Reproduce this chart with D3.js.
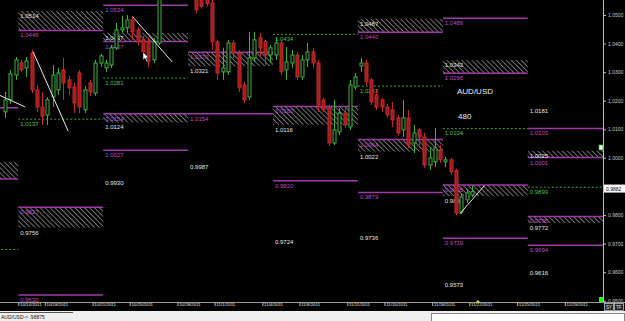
<!DOCTYPE html>
<html>
<head>
<meta charset="utf-8">
<script src="https://cdn.jsdelivr.net/npm/d3@7"></script>
<style>
  body { margin: 0; background: #000; overflow: hidden; }
  text { font-family: "Liberation Sans", Arial, sans-serif; }
</style>
</head>
<body>
<script>
// 8h candles, AUD/USD, [open, high, low, close]
var candles = [
  [1.0161,1.0231,1.0140,1.0203],[1.0203,1.0308,1.0189,1.0294],[1.0290,1.0353,1.0273,1.0343],[1.0332,1.0343,1.0301,1.0308],
  [1.0315,1.0353,1.0283,1.0339],[1.0367,1.0378,1.0227,1.0238],[1.0238,1.0255,1.0161,1.0178],[1.0178,1.0231,1.0115,1.0146],
  [1.0150,1.0213,1.0115,1.0203],[1.0213,1.0325,1.0178,1.0290],[1.0238,1.0315,1.0220,1.0297],[1.0308,1.0350,1.0203,1.0262],
  [1.0273,1.0287,1.0220,1.0245],[1.0248,1.0262,1.0157,1.0192],[1.0297,1.0308,1.0157,1.0178],[1.0168,1.0252,1.0157,1.0238],
  [1.0262,1.0273,1.0217,1.0231],[1.0227,1.0343,1.0217,1.0332],[1.0332,1.0364,1.0318,1.0357],[1.0315,1.0343,1.0301,1.0332],
  [1.0325,1.0395,1.0315,1.0385],[1.0385,1.0472,1.0378,1.0448],[1.0448,1.0497,1.0437,1.0455],[1.0455,1.0500,1.0437,1.0483],
  [1.0483,1.0497,1.0413,1.0441],[1.0448,1.0458,1.0395,1.0406],[1.0413,1.0427,1.0360,1.0371],[1.0406,1.0420,1.0318,1.0336],
  [1.0343,1.0420,1.0332,1.0406],[1.0402,1.0640,1.0395,1.0610],[1.0610,1.0660,1.0580,1.0645],[1.0645,1.0700,1.0620,1.0685],
  [1.0685,1.0740,1.0660,1.0720],[1.0720,1.0760,1.0690,1.0705],[1.0705,1.0730,1.0650,1.0665],[1.0665,1.0690,1.0580,1.0600],
  [1.0600,1.0620,1.0507,1.0518],[1.0580,1.0595,1.0522,1.0530],[1.0575,1.0590,1.0530,1.0540],[1.0542,1.0553,1.0378,1.0406],
  [1.0406,1.0413,1.0273,1.0297],[1.0301,1.0385,1.0273,1.0315],[1.0301,1.0413,1.0290,1.0402],[1.0402,1.0413,1.0350,1.0367],
  [1.0367,1.0378,1.0231,1.0245],[1.0255,1.0266,1.0192,1.0203],[1.0213,1.0441,1.0203,1.0350],[1.0350,1.0441,1.0336,1.0413],
  [1.0420,1.0437,1.0353,1.0385],[1.0406,1.0413,1.0325,1.0360],[1.0360,1.0395,1.0332,1.0385],[1.0360,1.0423,1.0343,1.0402],
  [1.0402,1.0413,1.0290,1.0301],[1.0308,1.0388,1.0273,1.0336],[1.0332,1.0378,1.0315,1.0360],[1.0360,1.0371,1.0273,1.0283],
  [1.0283,1.0360,1.0273,1.0343],[1.0343,1.0402,1.0318,1.0371],[1.0371,1.0385,1.0315,1.0332],[1.0332,1.0343,1.0161,1.0185],
  [1.0203,1.0210,1.0161,1.0168],[1.0175,1.0185,1.0042,1.0052],[1.0052,1.0203,1.0045,1.0098],[1.0091,1.0175,1.0080,1.0157],
  [1.0157,1.0175,1.0105,1.0115],[1.0108,1.0273,1.0098,1.0255],[1.0248,1.0297,1.0238,1.0283],[1.0322,1.0350,1.0301,1.0332],
  [1.0332,1.0343,1.0255,1.0266],[1.0273,1.0280,1.0185,1.0196],[1.0220,1.0238,1.0168,1.0178],[1.0203,1.0210,1.0161,1.0178],
  [1.0178,1.0189,1.0140,1.0150],[1.0168,1.0196,1.0108,1.0133],[1.0140,1.0150,1.0077,1.0087],[1.0098,1.0203,1.0073,1.0140],
  [1.0140,1.0168,1.0035,1.0045],[1.0052,1.0115,1.0017,1.0087],[1.0098,1.0105,1.0035,1.0073],[1.0073,1.0087,0.9965,0.9975],
  [0.9975,1.0038,0.9958,1.0000],[0.9986,1.0105,0.9968,1.0035],[1.0028,1.0045,0.9982,0.9993],[0.9986,1.0003,0.9968,0.9993],
  [0.9993,1.0000,0.9940,0.9951],[0.9955,0.9962,0.9800,0.9807],[0.9810,0.9877,0.9804,0.9863],[0.9853,0.9888,0.9842,0.9877],
  [0.9870,0.9902,0.9863,0.9882]
];

// weekly level columns, in bar index units
var weekStarts = [-13.5, 2.5, 18.5, 34.5, 50.5, 66.5, 82.5, 98.5, 114.5];
var magentaLines = [[0,1.0175],[1,0.9520],[2,1.0534],[2,1.0027],[3,1.0154],[4,0.9920],[5,0.9879],[6,1.0489],[6,0.9719],[7,1.0103],[7,0.9694]];
var greenLines = [[0,0.9681],[1,1.0137],[2,1.0281],[4,1.0434],[5,1.0253],[6,1.0104],[7,0.9899]];
// [week, top, bottom, which edge is the magenta line]
var zones = [
  [0,0.9985,0.9926,"bottom"],[1,1.0514,1.0446,"bottom"],[1,0.9827,0.9756,"top"],
  [2,1.0437,1.0407,"bottom"],[2,1.0154,1.0124,"top"],[3,1.0370,1.0321,"top"],
  [4,1.0180,1.0116,"top"],[5,1.0487,1.0440,"bottom"],[5,1.0064,1.0022,"top"],
  [6,1.0342,1.0296,"bottom"],[6,0.9905,0.9866,"top"],[7,1.0025,1.0001,"bottom"],[7,0.9795,0.9772,"top"]
];
var whiteLabels = [[2,0.9930],[3,0.9987],[4,0.9724],[5,0.9736],[6,0.9573],[7,1.0181],[7,0.9616]];
// hand drawn trend lines [bar, price, bar, price]
var trendLines = [[-1,1.0219,3.8,1.0178],[5.3,1.0371,11.9,1.0094],[24.1,1.0493,31.5,1.0336],[85.7,0.9804,90.3,0.9902]];

var dateTicks = [3, 8, 17, 24, 33, 40, 49, 56, 65, 72, 81, 88, 97, 106];
var dateLabels = ["10/14/2011","10/18/2011","10/21/2011","10/25/2011","10/28/2011","11/1/2011","11/4/2011",
  "11/8/2011","11/11/2011","11/15/2011","11/18/2011","11/22/2011","11/25/2011","11/29/2011"];
var priceTicks = [1.05, 1.04, 1.03, 1.02, 1.01, 1.00, 0.99, 0.98, 0.97, 0.96, 0.95];
var symbol = "AUD/USD", barCount = "480", lastPrice = 0.9882, statusText = "AUD/USD-> .98875";

var W = 625, H = 321, plotRight = 603, plotBottom = 302;
var magenta = "#a03aa8", magentaText = "#c048c8", green = "#3aa23a", greenText = "#48c048";

var svg = d3.select("body").append("svg").attr("width", W).attr("height", H);

var x = d3.scaleLinear().domain([0, 88]).range([5, 472]);
var y = d3.scaleLinear().domain([0.95, 1.05]).range([300.7, 15]);

var defs = svg.append("defs");
var pat = defs.append("pattern").attr("id", "hatch").attr("patternUnits", "userSpaceOnUse")
  .attr("width", 3.5).attr("height", 3.5).attr("patternTransform", "rotate(-45)");
pat.append("line").attr("x1", 0).attr("y1", 0).attr("x2", 0).attr("y2", 3.5)
  .attr("stroke", "#d8d8d8").attr("stroke-width", 1);
defs.append("clipPath").attr("id", "plot").append("rect").attr("width", plotRight).attr("height", plotBottom);

svg.append("rect").attr("width", W).attr("height", H).attr("fill", "#000");

var g = svg.append("g").attr("clip-path", "url(#plot)");

function wx(k) { return x(weekStarts[k]); }
function label(sel, k, p, col) {
  if (wx(k) < 0) return; // column starts off screen, its labels are not visible
  sel.append("text").attr("x", wx(k) + 2).attr("y", y(p) + 7).attr("fill", col)
    .attr("font-size", "6px").text(p.toFixed(4));
}

// zones
zones.forEach(function(z) {
  g.append("rect").attr("x", wx(z[0])).attr("y", y(z[1]))
    .attr("width", wx(z[0] + 1) - wx(z[0])).attr("height", y(z[2]) - y(z[1]))
    .attr("fill", "url(#hatch)");
  var edge = z[3] == "top" ? z[1] : z[2];
  g.append("line").attr("x1", wx(z[0])).attr("x2", wx(z[0] + 1)).attr("y1", y(edge)).attr("y2", y(edge))
    .attr("stroke", magenta).attr("stroke-width", 1.5);
  label(g, z[0], z[1], z[3] == "top" ? magentaText : "#e0e0e0");
  label(g, z[0], z[2], z[3] == "bottom" ? magentaText : "#e0e0e0");
});

magentaLines.forEach(function(d) {
  g.append("line").attr("x1", wx(d[0])).attr("x2", wx(d[0] + 1)).attr("y1", y(d[1])).attr("y2", y(d[1]))
    .attr("stroke", magenta).attr("stroke-width", 1.5);
  label(g, d[0], d[1], magentaText);
});

greenLines.forEach(function(d) {
  g.append("line").attr("x1", wx(d[0])).attr("x2", wx(d[0] + 1)).attr("y1", y(d[1]) + 0.5).attr("y2", y(d[1]) + 0.5)
    .attr("stroke", green).attr("stroke-dasharray", "2,2");
  label(g, d[0], d[1], greenText);
});

whiteLabels.forEach(function(d) { label(g, d[0], d[1], "#e8e8e8"); });

// candles
var c = g.append("g").selectAll("g").data(candles).enter().append("g");
c.append("line")
  .attr("x1", function(d, i) { return Math.round(x(i)) + 0.5; })
  .attr("x2", function(d, i) { return Math.round(x(i)) + 0.5; })
  .attr("y1", function(d) { return y(d[1]); })
  .attr("y2", function(d) { return y(d[2]); })
  .attr("stroke", function(d) { return d[3] >= d[0] ? "#3cb43c" : "#c82828"; });
c.append("rect")
  .attr("x", function(d, i) { return Math.round(x(i)) - 1; })
  .attr("width", 3)
  .attr("y", function(d) { return y(Math.max(d[0], d[3])); })
  .attr("height", function(d) { return Math.max(1, Math.abs(y(d[0]) - y(d[3]))); })
  .attr("fill", function(d) { return d[3] >= d[0] ? "#000" : "#9a1e1e"; })
  .attr("stroke", function(d) { return d[3] >= d[0] ? "#3cb43c" : "#c82828"; });

trendLines.forEach(function(t) {
  g.append("line").attr("x1", x(t[0])).attr("y1", y(t[1])).attr("x2", x(t[2])).attr("y2", y(t[3]))
    .attr("stroke", "#e8e8e8").attr("stroke-width", 1);
});

// mouse pointer
g.append("path").attr("d", "M143,52 L143,60 L145,58.2 L146.6,61.4 L147.8,60.8 L146.3,57.7 L148.8,57.7 Z")
  .attr("fill", "#fff").attr("stroke", "#000").attr("stroke-width", 0.5);

g.append("text").attr("x", 457).attr("y", 94).attr("fill", "#eee").attr("font-size", "8px").text(symbol);
g.append("text").attr("x", 458).attr("y", 119).attr("fill", "#eee").attr("font-size", "8px").text(barCount);

// price axis (the 0.9900 label sits under the last price box)
var yAxis = svg.append("g").attr("transform", "translate(" + plotRight + ",0)")
  .call(d3.axisRight(y).tickValues(priceTicks).tickSize(3).tickPadding(2)
    .tickFormat(function(d) { return Math.abs(d - 0.99) < 1e-9 ? "" : d3.format(".4f")(d); }));
yAxis.select(".domain").attr("stroke", "#bdbdbd").attr("d", "M0.5,0V" + plotBottom);
yAxis.selectAll(".tick line").attr("stroke", "#bdbdbd");
yAxis.selectAll("text").attr("fill", "#c8c8c8").attr("font-size", "5px");

svg.append("rect").attr("x", 604).attr("y", y(lastPrice) - 7).attr("width", 21).attr("height", 8).attr("fill", "#fff");
svg.append("text").attr("x", 606).attr("y", y(lastPrice) - 1).attr("font-size", "5px").attr("fill", "#000")
  .text(lastPrice.toFixed(4));

// small chart widgets
svg.append("rect").attr("x", 599).attr("y", 145).attr("width", 4).attr("height", 5).attr("fill", "#fff").attr("stroke", "#3a3").attr("stroke-width", 0.8);
svg.append("rect").attr("x", 599).attr("y", 297).attr("width", 4).attr("height", 5).attr("fill", "#1f1");

// date axis
var xAxis = svg.append("g").attr("transform", "translate(0," + plotBottom + ")")
  .call(d3.axisBottom(x).tickValues(dateTicks.map(function(i) { return i - 0.5; }))
    .tickFormat(function(d, i) { return dateLabels[i]; }).tickSize(4).tickPadding(-1));
xAxis.select(".domain").attr("stroke", "#9a9a9a").attr("d", "M0,0.5H625");
xAxis.selectAll(".tick line").attr("stroke", "#bbb");
xAxis.selectAll("text").attr("fill", "#e8e8e8").attr("font-size", "4.4px")
  .attr("text-anchor", "start").attr("dx", "1.2").attr("dy", "0.25em");
svg.append("path").attr("d", "M478,300 L480,302.5 L476,302.5 Z").attr("fill", "#ee2");

[["SY", 604], ["TF", 614]].forEach(function(b) {
  svg.append("rect").attr("x", b[1] + 0.5).attr("y", 303.5).attr("width", 9).attr("height", 7)
    .attr("fill", "#222").attr("stroke", "#ddd").attr("stroke-width", 0.7);
  svg.append("text").attr("x", b[1] + 2).attr("y", 309).attr("fill", "#eee").attr("font-size", "4.5px").text(b[0]);
});

// status bar
svg.append("rect").attr("y", 311).attr("width", W).attr("height", 10).attr("fill", "#efefef");
svg.append("line").attr("x1", 0).attr("x2", 73).attr("y1", 312.5).attr("y2", 312.5).attr("stroke", "#555");
svg.append("text").attr("x", 1).attr("y", 318.5).attr("font-size", "5px").attr("fill", "#111").text(statusText);
svg.append("rect").attr("x", 431.5).attr("y", 313.5).attr("width", 193).attr("height", 8).attr("fill", "#fff").attr("stroke", "#888");
</script>
</body>
</html>
